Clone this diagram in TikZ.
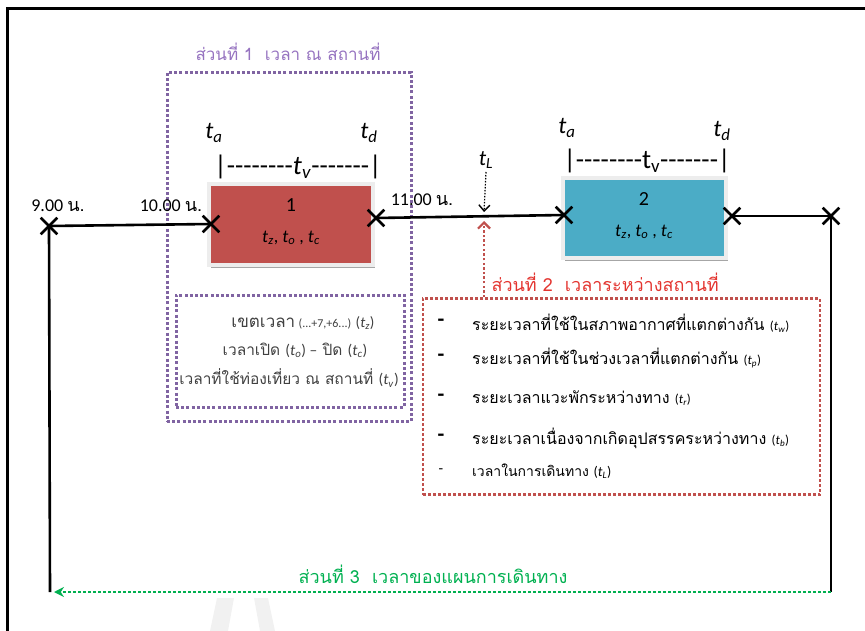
\documentclass[tikz,border=0pt]{standalone}
\usepackage{fontspec}
\setmainfont{Carlito}
\newfontfamily\thai[Script=Thai]{Loma}
\usetikzlibrary{shapes.misc,arrows.meta,shadows}

\definecolor{boxred}{HTML}{C0504D}
\definecolor{boxblue}{HTML}{4BACC6}
\definecolor{partpurple}{HTML}{8064A2}
\definecolor{titlepurple}{HTML}{9673C0}
\definecolor{partred}{HTML}{C0504D}
\definecolor{titlered}{HTML}{E3342F}
\definecolor{partgreen}{HTML}{00B050}
\definecolor{txtgray}{HTML}{404040}
\definecolor{marklight}{HTML}{F1F1F1}

% italic time symbol with italic subscript
\newcommand\tv[1]{\textit{t}\textsubscript{\textit{#1}}}
\newcommand\fs[1]{\fontsize{#1}{#1}\selectfont}
% runs of single hyphens (kept apart so they do not join into dashes)
\newcommand\hyeight{-{}-{}-{}-{}-{}-{}-{}-{}}
\newcommand\hyseven{-{}-{}-{}-{}-{}-{}-{}}

\tikzset{
  mainline/.style={line width=2.6pt, black},
  xmark/.style={cross out, draw=black, line width=2.6pt, minimum size=14pt, inner sep=0pt},
  placebox/.style={rectangle, draw=black!7, line width=4pt, inner sep=0pt,
    drop shadow={shadow xshift=2pt, shadow yshift=-3pt, opacity=0.35, fill=black}},
  purpledots/.style={draw=partpurple, line width=3pt, dash pattern=on 3pt off 2.2pt, rectangle, inner sep=0pt},
  reddots/.style={draw=partred, line width=2.8pt, dash pattern=on 2.8pt off 2.2pt, rectangle, inner sep=0pt},
  tlabel/.style={font=\fs{24}, inner sep=0pt},
  barlabel/.style={font=\fs{27}, inner sep=0pt},
  timelabel/.style={font=\fs{18}, inner sep=0pt},
  itemdash/.style={font=\fs{22}\bfseries, inner sep=0pt},
  itemtext/.style={font=\thai\fs{16}, anchor=west, inner sep=0pt, text=black},
}

\begin{document}
\begin{tikzpicture}[x=1pt,y=-1pt]
\useasboundingbox (0,0) rectangle (865,631);

% page frame (top and left edges)
\draw[line width=3pt] (865,9) -- (7,9) -- (7,631);

% faint background mark
\fill[marklight] (217,598) -- (234,598) -- (228,631) -- (210,631) -- cycle;
\fill[marklight] (254,598) -- (268,598) -- (275,631) -- (260,631) -- cycle;

% part 1 frames
\node[purpledots, minimum width=244pt, minimum height=349pt] (part1box) at (289,247) {};
\node[purpledots, minimum width=228pt, minimum height=112pt] (zonebox) at (290,351) {};
\node[text=titlepurple, font=\thai\fs{17}] (part1title) at (288,52) {ส่วนที่ 1\ \ เวลา ณ สถานที่};

% part 2 frame
\node[reddots, minimum width=397pt, minimum height=196pt] (part2box) at (621.5,396.5) {};
\node[text=titlered, font=\thai\fs{18}, anchor=west] (part2title) at (488,282) {ส่วนที่ 2\ \ เวลาระหว่างสถานที่};

% places
\node[placebox, fill=boxred, minimum width=164pt, minimum height=81pt] (place1) at (291,224.5) {};
\node[placebox, fill=boxblue, minimum width=163pt, minimum height=80pt] (place2) at (644.5,218) {};
\node[font=\fs{20}, inner sep=0pt] (num1) at (291,205) {1};
\node[font=\fs{18}, inner sep=0pt] (vars1) at (291,238) {\tv{z}, \tv{o} , \tv{c}};
\node[font=\fs{20}, inner sep=0pt] (num2) at (644,199) {2};
\node[font=\fs{18}, inner sep=0pt] (vars2) at (644,232) {\tv{z}, \tv{o} , \tv{c}};

% arrival / departure labels
\node[tlabel] (ta1) at (214,133) {\tv{a}};
\node[tlabel] (td1) at (369,133) {\tv{d}};
\node[barlabel] (tv1) at (298,167) {|\hyeight\tv{v}\hyseven|};
\node[tlabel] (ta2) at (567,128) {\tv{a}};
\node[tlabel] (td2) at (722,131) {\tv{d}};
\node[barlabel] (tv2) at (647,161) {|\hyeight t\textsubscript{v}\hyseven|};

% timeline crosses
\node[xmark] (x9) at (49,226) {};
\node[xmark] (x10) at (211,224) {};
\node[xmark] (x11) at (376,218) {};
\node[xmark] (x2a) at (564,215) {};
\node[xmark] (x2d) at (732,216) {};
\node[xmark] (xend) at (831,216) {};
\coordinate (lb) at (50,592);
\coordinate (rb) at (831,592);
\coordinate (tLpt) at (484,218);

\draw[mainline] (x9.center) -- (x10.center);
\draw[mainline] (x11.center) -- (x2a.center);
\draw[mainline] (x2d.center) -- (xend.center);
\draw[mainline] (x9.center) -- (lb);
\draw[mainline] (xend.center) -- (rb);

% clock times
\node[timelabel] (t9) at (58,206) {9.00 {\thai น.}};
\node[timelabel] (t10) at (171,206) {10.00 {\thai น.}};
\node[timelabel] (t11) at (422,200) {11.00 {\thai น.}};

% travel time marker
\node[font=\fs{22}, inner sep=0pt] (tL) at (486,160) {\tv{L}};
\draw[line width=1.2pt, dash pattern=on 1.5pt off 1.5pt, -{Straight Barb[length=6pt, width=11pt, line width=1.4pt]}] ([yshift=-12pt]tL.center) -- ([yshift=6pt]tLpt);
\draw[partred, line width=2.4pt, dash pattern=on 2.4pt off 2.2pt, -{Straight Barb[length=6pt, width=12pt, line width=2.2pt]}] (tLpt |- part2box.north) -- ([yshift=-3pt]tLpt);

% part 1 details
\node[font=\fs{15}, text=txtgray, inner sep=0pt] (zone1) at (303,323) {{\thai\fs{17}เขตเวลา} {\fs{12}(...+7,+6...)} (\tv{z})};
\node[font=\thai\fs{15.5}, text=txtgray, inner sep=0pt] (zone2) at (295,350) {เวลาเปิด {\rmfamily(\tv{o}) –} ปิด {\rmfamily(\tv{c})}};
\node[font=\thai\fs{15.5}, text=txtgray, inner sep=0pt] (zone3) at (289,378) {เวลาที่ใช้ท่องเที่ยว ณ สถานที่ {\rmfamily(\tv{v})}};

% part 2 items
\foreach \yy/\nm in {323/d1, 358/d2, 398/d3, 438/d4}
  \node[itemdash] (\nm) at (441,\yy) {-};
\node[font=\fs{15}, inner sep=0pt] (d5) at (441,471) {-};
\node[itemtext] (i1) at (472,323) {ระยะเวลาที่ใช้ในสภาพอากาศที่แตกต่างกัน {\rmfamily\fs{13}(\tv{w})}};
\node[itemtext] (i2) at (472,358) {ระยะเวลาที่ใช้ในช่วงเวลาที่แตกต่างกัน {\rmfamily\fs{13}(\tv{p})}};
\node[itemtext] (i3) at (472,398) {ระยะเวลาแวะพักระหว่างทาง {\rmfamily\fs{13}(\tv{r})}};
\node[itemtext] (i4) at (472,438) {ระยะเวลาเนื่องจากเกิดอุปสรรคระหว่างทาง {\rmfamily\fs{13}(\tv{b})}};
\node[itemtext, font=\thai\fs{14}] (i5) at (472,471) {เวลาในการเดินทาง {\rmfamily(\tv{L})}};

% part 3
\node[text=partgreen, font=\thai\fs{18}] (part3title) at (433,574) {ส่วนที่ 3\ \ เวลาของแผนการเดินทาง};
\draw[partgreen, line width=2.6pt, dash pattern=on 2.6pt off 2.4pt, -{Stealth[length=10pt, width=10pt]}] (rb) -- ([xshift=4pt]lb);
\end{tikzpicture}
\end{document}
